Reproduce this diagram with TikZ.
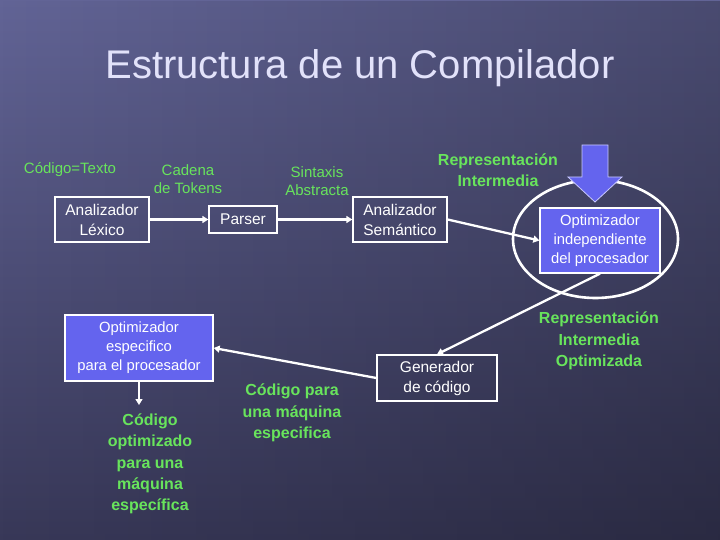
\documentclass[tikz,border=0pt]{standalone}
\usepackage{fontspec}
\setmainfont{Liberation Sans}
\usetikzlibrary{arrows.meta,fadings}
\definecolor{bgtop}{RGB}{98,100,150}
\definecolor{bgbot}{RGB}{56,56,88}
\definecolor{boxblue}{RGB}{100,100,238}
\definecolor{lgreen}{RGB}{104,228,92}
\definecolor{titlec}{RGB}{226,226,250}
\definecolor{arrowline}{RGB}{200,200,255}
\tikzset{
  wbox/.style={draw=white, line width=1.3pt, text=white, align=center, inner sep=0pt,
    font=\fontsize{15.5}{20}\selectfont},
  bbox/.style={wbox, fill=boxblue, font=\fontsize{14.8}{19}\selectfont},
  glab/.style={text=lgreen, align=center, inner sep=0pt, font=\fontsize{15}{18}\selectfont},
  gbold/.style={text=lgreen, align=center, inner sep=0pt, font=\bfseries\fontsize{16}{21.3}\selectfont},
  conn/.style={draw=white, line width=2.3pt, -{Triangle[length=6pt,width=7pt]}},
}
\begin{document}
\begin{tikzpicture}[x=1pt,y=-1pt]
\useasboundingbox (0,0) rectangle (720,540);
\shade[top color=bgtop, bottom color=bgbot] (0,0) rectangle (720,540);
\fill[black, opacity=0.25, path fading=west] (0,0) rectangle (720,540);

\node[text=titlec, font=\fontsize{40}{46}\selectfont, inner sep=0pt] (title) at (360,68) {Estructura de un Compilador};

% green labels
\node[glab] (codtxt) at (70,170) {Código=Texto};
\node[glab] (cad) at (188,179) {Cadena\\de Tokens};
\node[glab] (sint) at (317,181.5) {Sintaxis\\Abstracta};
\node[gbold] (rep) at (498,170.5) {Representación\\Intermedia};
\node[gbold] (repo) at (599,341) {Representación\\Intermedia\\Optimizada};
\node[gbold] (cpm) at (292,413) {Código para\\una máquina\\especifica};
\node[gbold] (copt) at (150,464) {Código\\optimizado\\para una\\máquina\\específica};

% ellipse and big arrow
\draw[white, line width=2.6pt] (595.5,239) ellipse (82.5 and 59);
\draw[fill=boxblue, draw=arrowline, line width=0.8pt]
  (582,145) -- (608,145) -- (608,177) -- (622,177) -- (595,202) -- (568,177) -- (582,177) -- cycle;

% boxes
\node[wbox, minimum width=94pt, minimum height=45pt] (lex) at (102,219.5) {Analizador\\Léxico};
\node[wbox, minimum width=68pt, minimum height=27pt] (parser) at (243,219.5) {Parser};
\node[wbox, minimum width=94pt, minimum height=45pt] (sem) at (400,219.5) {Analizador\\Semántico};
\node[bbox, minimum width=120pt, minimum height=65pt] (opti) at (600,240.5) {Optimizador\\independiente\\del procesador};
\node[wbox, minimum width=120pt, minimum height=46pt] (gen) at (437,378) {Generador\\de código};
\node[bbox, minimum width=148pt, minimum height=66pt] (opte) at (139,348) {Optimizador\\especifico\\para el procesador};
\coordinate (optout) at (139,405);

% connectors
\draw[conn] (lex) -- (parser);
\draw[conn] (parser) -- (sem);
\draw[conn] (sem.east) -- (opti.west);
\draw[conn] (opti.south) -- (gen.north);
\draw[conn] (gen.west) -- (opte.east);
\draw[conn, line width=1.4pt] (opte.south) -- (optout);
\end{tikzpicture}
\end{document}
